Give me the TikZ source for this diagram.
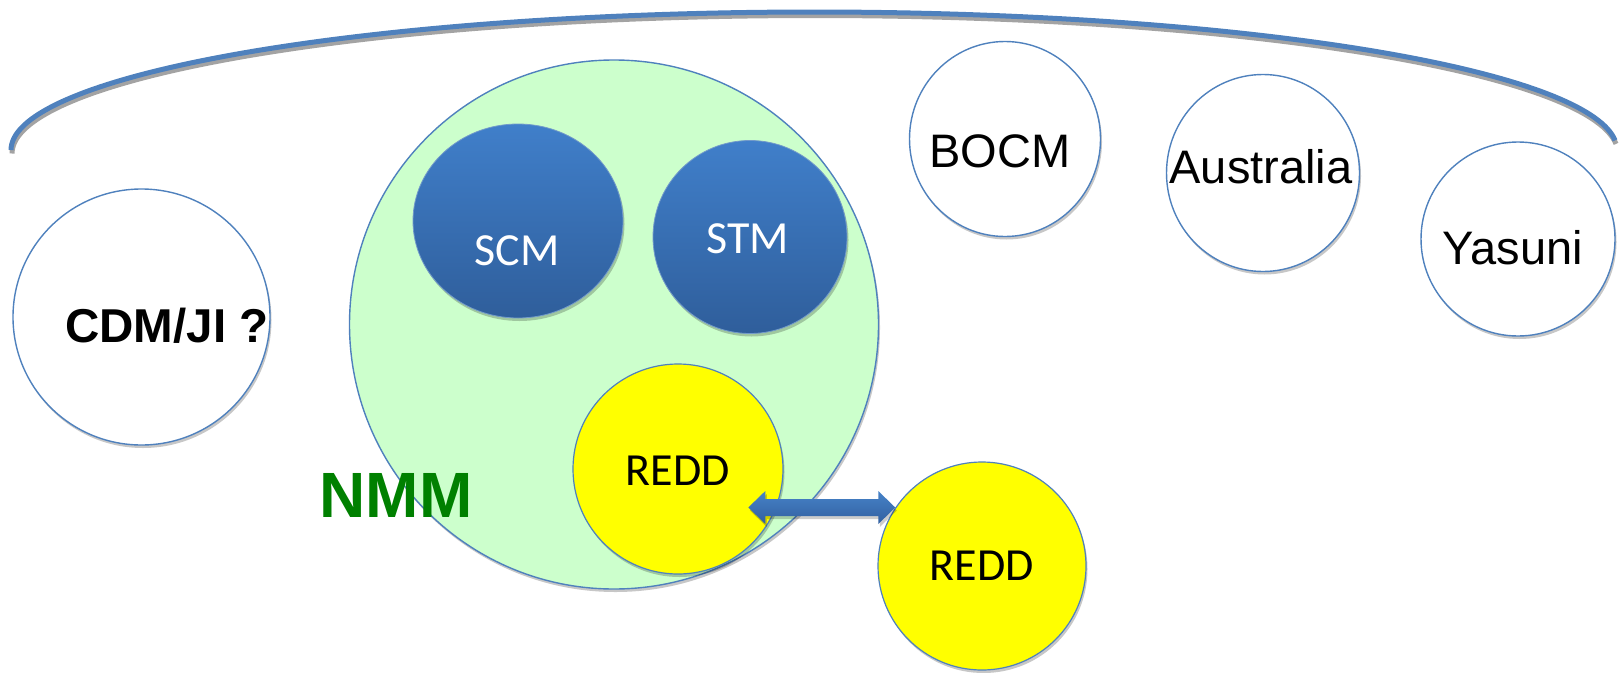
\documentclass[tikz,border=0pt]{standalone}
\usepackage{fontspec}
\setmainfont{Liberation Sans}
\newfontfamily\calib{Carlito}
\usetikzlibrary{shadows,calc,shapes.geometric}
\definecolor{bord}{RGB}{79,129,189}
\definecolor{mint}{RGB}{204,255,204}
\definecolor{btop}{RGB}{64,127,202}
\definecolor{bbot}{RGB}{47,94,155}
\definecolor{nmmgreen}{RGB}{0,128,0}
\definecolor{yel}{RGB}{255,255,0}
\definecolor{atop}{RGB}{70,130,200}
\definecolor{abot}{RGB}{50,96,160}
\tikzset{
  shad/.style={drop shadow={shadow xshift=1.5pt,shadow yshift=-3pt,opacity=0.22,fill=black}},
  wcirc/.style={ellipse,draw=bord,line width=1.4pt,fill=white,inner sep=0pt,shad},
  bcirc/.style={ellipse,draw=bord!80!white,line width=0.8pt,top color=btop,bottom color=bbot,inner sep=0pt,shad},
  ycirc/.style={circle,draw=bord,line width=1.2pt,fill=yel,inner sep=0pt,minimum size=208pt,shad},
  bigcirc/.style={circle,draw=bord,line width=1.4pt,fill=mint,inner sep=0pt,minimum size=529pt,shad},
  arial/.style={font=\fontsize{47}{50}\selectfont,text=black,inner sep=0pt,anchor=base},
  arialb/.style={font=\fontsize{47.5}{50}\selectfont\bfseries,text=black,inner sep=0pt,anchor=base},
  cal/.style={font=\calib\fontsize{46}{50}\selectfont,inner sep=0pt,anchor=base},
  arcline/.style={draw=bord,line width=5pt},
  arcshadow/.style={draw=black!45,line width=5pt,opacity=0.8},
}
\begin{document}
\begin{tikzpicture}[x=1pt,y=-1pt]
\useasboundingbox (0,0) rectangle (1621,672);
% top arc
\draw[arcshadow] plot[domain=180:4,samples=150] ({814+803*cos(\x)+1},{150-138*sin(\x)+3.5});
\draw[arcline] plot[domain=180:4,samples=150] ({814+803*cos(\x)},{150-138*sin(\x)});
% left circle
\node[wcirc,minimum width=257pt,minimum height=256pt] (cdm) at (141.5,317) {};
\node[arialb] (cdmt) at (167,342) {CDM/JI ?};
% NMM group
\node[bigcirc] (nmm) at (614,324.5) {};
\node[bcirc,minimum width=210pt,minimum height=194pt] (scm) at (518,221) {};
\node[cal,text=white] (scmt) at (517,265) {SCM};
\node[bcirc,minimum width=194pt,minimum height=193pt] (stm) at (750,237) {};
\node[cal,text=white] (stmt) at (748,253) {STM};
\node[ycirc,minimum size=210pt] (redda) at (678,469) {};
\node[cal,text=black] (reddat) at (678,485) {REDD};
\node[font=\fontsize{64}{66}\selectfont\bfseries,text=nmmgreen,inner sep=0pt,anchor=base] (nmmt) at (396,517) {NMM};
% outer REDD
\node[ycirc] (reddb) at (982,566) {};
\node[cal,text=black] (reddbt) at (982,580) {REDD};
% double arrow
\coordinate (aR) at (reddb.146);
\coordinate (aL) at ($(aR)+(-147,0)$);
\fill[black,opacity=0.2] ($(aL)+(1.5,3)$) -- ++(17,-16.5) -- ++(0,8) -- ($(aR)+(-15.5,-5.5)$) -- ++(0,-8) -- ($(aR)+(1.5,3)$) -- ++(-17,16.5) -- ++(0,-8) -- ($(aL)+(18.5,11.5)$) -- ++(0,8) -- cycle;
\path[top color=atop,bottom color=abot] (aL) -- ++(17,-16.5) -- ++(0,8) -- ($(aR)+(-17,-8.5)$) -- ++(0,-8) -- (aR) -- ++(-17,16.5) -- ++(0,-8) -- ($(aL)+(17,8.5)$) -- ++(0,8) -- cycle;
% right circles
\node[wcirc,minimum width=191pt,minimum height=195pt] (bocm) at (1005,139) {};
\node[arial] (bocmt) at (1000,167) {BOCM};
\node[wcirc,minimum width=193pt,minimum height=197pt] (aus) at (1263,173) {};
\node[arial] (aust) at (1261,183) {Australia};
\node[wcirc,minimum width=194pt,minimum height=194pt] (yas) at (1518,239) {};
\node[arial] (yast) at (1513,264) {Yasuni};
\end{tikzpicture}
\end{document}
